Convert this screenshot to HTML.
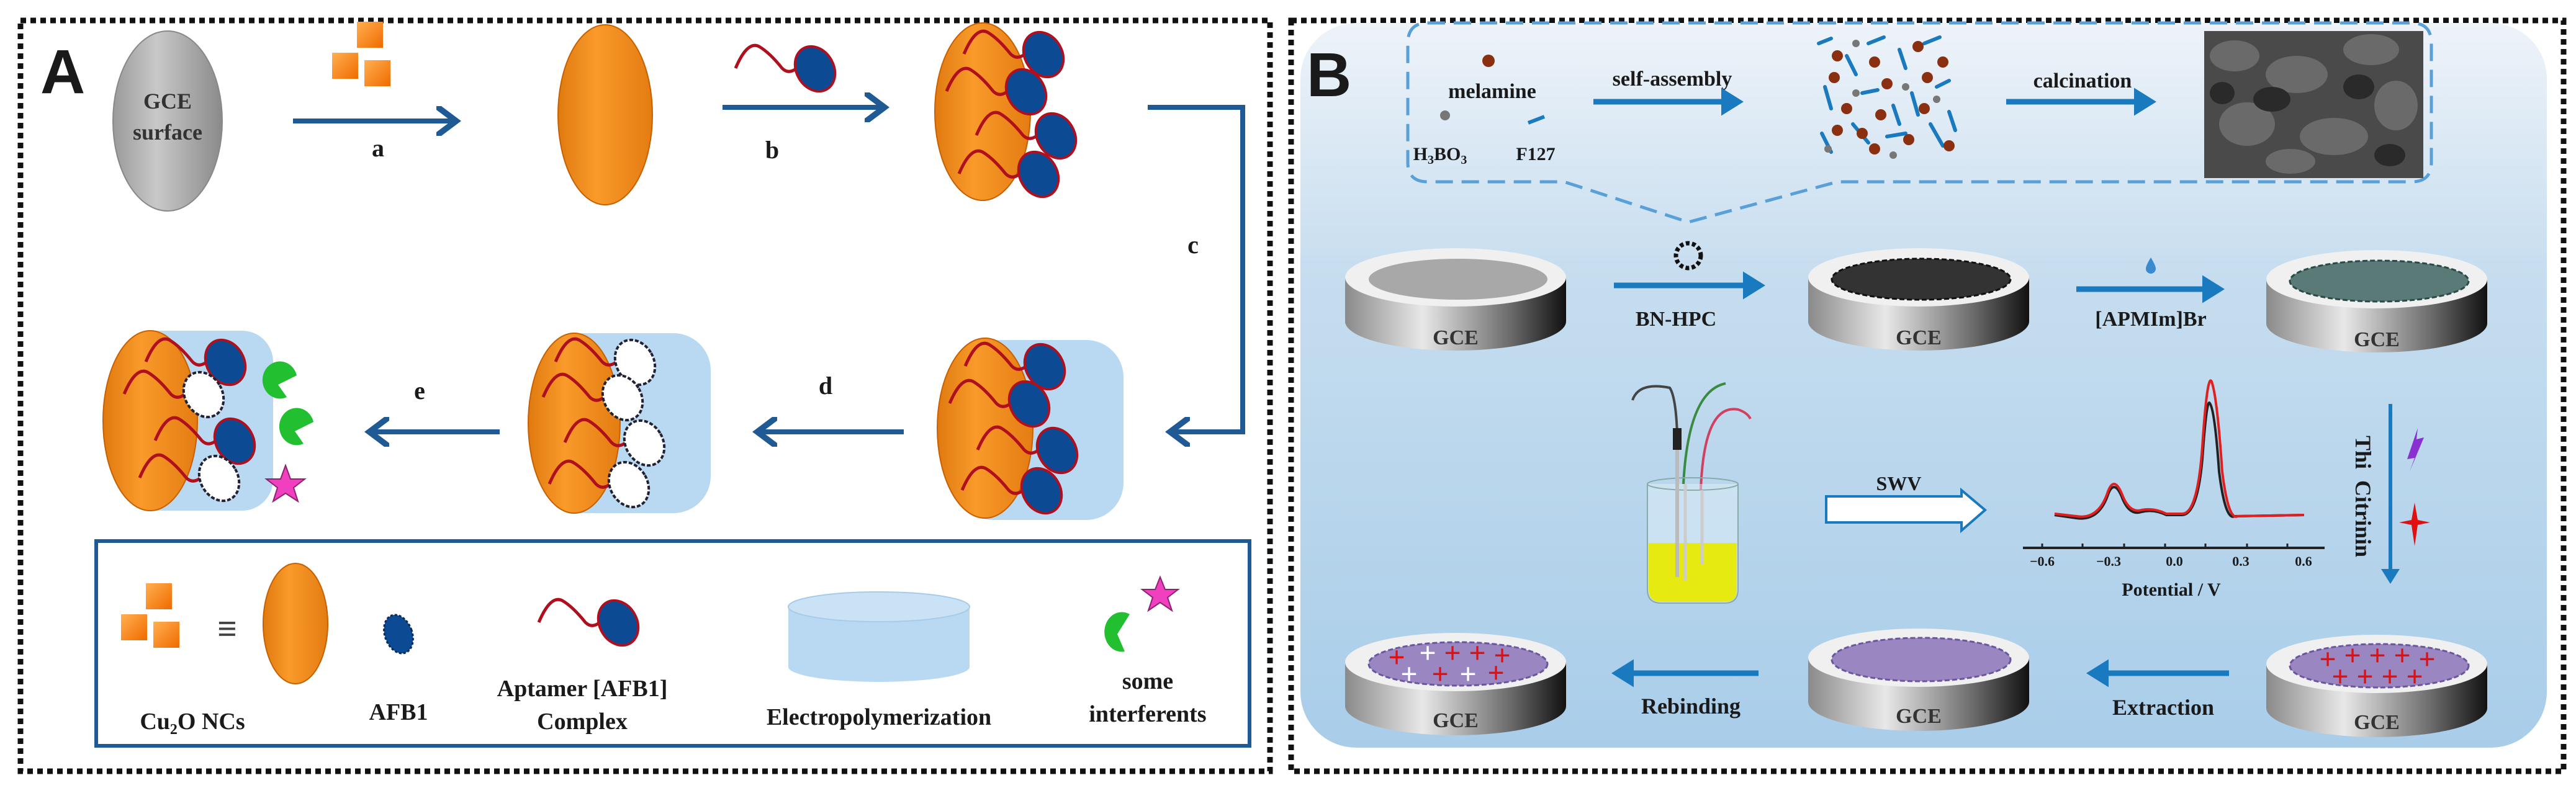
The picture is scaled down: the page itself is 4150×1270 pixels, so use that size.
<!DOCTYPE html>
<html><head><meta charset="utf-8"><style>
html,body{margin:0;padding:0;background:#fff;}
svg{display:block;}
text{font-family:"Liberation Serif",serif;font-weight:bold;fill:#1a1a1a;}
.r{fill:#e01010 !important;}
.w{fill:#ffffff !important;}
</style></head><body>
<svg width="4150" height="1270" viewBox="0 0 4150 1270" xmlns="http://www.w3.org/2000/svg">
<defs>
<linearGradient id="org" x1="0" x2="1" y1="0" y2="0"><stop offset="0" stop-color="#e07a10"/><stop offset="0.4" stop-color="#f99a2a"/><stop offset="1" stop-color="#e47c12"/></linearGradient>
<linearGradient id="gray" x1="0" x2="1"><stop offset="0" stop-color="#9a9a9a"/><stop offset="0.4" stop-color="#c8c8c8"/><stop offset="1" stop-color="#8a8a8a"/></linearGradient>
<linearGradient id="side" x1="0" x2="1"><stop offset="0" stop-color="#8a8a8a"/><stop offset="0.35" stop-color="#e8e8e8"/><stop offset="0.75" stop-color="#6a6a6a"/><stop offset="1" stop-color="#111"/></linearGradient>
<linearGradient id="bgB" x1="0" x2="0" y1="0" y2="1"><stop offset="0" stop-color="#eef3f9"/><stop offset="0.35" stop-color="#c6ddef"/><stop offset="1" stop-color="#a9cde9"/></linearGradient>
<linearGradient id="cub" x1="0" x2="1" y1="0" y2="1"><stop offset="0" stop-color="#ffb050"/><stop offset="1" stop-color="#f06a00"/></linearGradient>
<marker id="ah" markerWidth="6" markerHeight="6" refX="4" refY="3" orient="auto" markerUnits="strokeWidth"><path d="M0,0 L4,3 L0,6" fill="none" stroke="#1f5a95" stroke-width="1.2"/></marker>
<marker id="ah2" markerWidth="5" markerHeight="5" refX="3" refY="2.5" orient="auto" markerUnits="strokeWidth"><path d="M0,0 L4,2.5 L0,5 Z" fill="#1a7ac0"/></marker>
<g id="apt"><path d="M0,35 Q19,-10 38,0 Q55,10 75,35 Q85,45 97,36" fill="none" stroke="#b0101e" stroke-width="5"/><ellipse cx="128" cy="36" rx="30" ry="38" transform="rotate(-30 128 36)" fill="#0d4a94" stroke="#b0101e" stroke-width="4"/></g>
<g id="aptw"><path d="M0,35 Q19,-10 38,0 Q55,10 75,35 Q85,45 97,36" fill="none" stroke="#b0101e" stroke-width="5"/><ellipse cx="128" cy="36" rx="30" ry="38" transform="rotate(-30 128 36)" fill="#fff" stroke="#223" stroke-width="4" stroke-dasharray="6 3"/></g>
<g id="cubes"><rect x="40" y="0" width="42" height="42" fill="url(#cub)"/><rect x="0" y="50" width="42" height="42" fill="url(#cub)"/><rect x="52" y="62" width="42" height="42" fill="url(#cub)"/></g>
</defs>

<!-- Panel A -->
<rect x="33" y="33" width="2013" height="1210" fill="none" stroke="#111" stroke-width="9" stroke-dasharray="9 7"/>
<text x="65" y="150" style="font-family:'Liberation Sans',sans-serif;font-size:100px;">A</text>
<ellipse cx="270" cy="195" rx="88" ry="145" fill="url(#gray)" stroke="#888" stroke-width="2"/>
<text x="270" y="175" text-anchor="middle" font-size="36" style="fill:#333">GCE</text>
<text x="270" y="225" text-anchor="middle" font-size="36" style="fill:#333">surface</text>
<use href="#cubes" x="535" y="35"/>
<line x1="472" y1="195" x2="735" y2="195" stroke="#1f5a95" stroke-width="8" marker-end="url(#ah)"/>
<text x="609" y="252" text-anchor="middle" font-size="40">a</text>
<ellipse cx="975" cy="185" rx="76" ry="145" fill="url(#org)" stroke="#c86000" stroke-width="2"/>
<use href="#apt" x="1185" y="75"/>
<line x1="1164" y1="173" x2="1425" y2="173" stroke="#1f5a95" stroke-width="8" marker-end="url(#ah)"/>
<text x="1244" y="255" text-anchor="middle" font-size="40">b</text>
<ellipse cx="1583" cy="180" rx="77" ry="143" fill="url(#org)" stroke="#c86000" stroke-width="2"/>
<use href="#apt" x="1553" y="52"/><use href="#apt" x="1525" y="112"/><use href="#apt" x="1573" y="183"/><use href="#apt" x="1545" y="245"/>
<polyline points="1849,173 2002,173 2002,696 1885,696" fill="none" stroke="#1f5a95" stroke-width="8" marker-end="url(#ah)"/>
<text x="1922" y="408" text-anchor="middle" font-size="40">c</text>
<rect x="1540" y="548" width="270" height="290" rx="60" fill="#b9d9f3"/>
<ellipse cx="1587" cy="690" rx="77" ry="145" fill="url(#org)" stroke="#c86000" stroke-width="2"/>
<use href="#apt" x="1555" y="555"/><use href="#apt" x="1530" y="615"/><use href="#apt" x="1575" y="690"/><use href="#apt" x="1550" y="755"/>
<line x1="1456" y1="696" x2="1220" y2="696" stroke="#1f5a95" stroke-width="8" marker-end="url(#ah)"/>
<text x="1330" y="635" text-anchor="middle" font-size="40">d</text>
<rect x="880" y="537" width="265" height="290" rx="60" fill="#b9d9f3"/>
<ellipse cx="925" cy="682" rx="74" ry="145" fill="url(#org)" stroke="#c86000" stroke-width="2"/>
<use href="#aptw" x="895" y="548"/><use href="#aptw" x="875" y="605"/><use href="#aptw" x="910" y="678"/><use href="#aptw" x="885" y="745"/>
<line x1="805" y1="696" x2="595" y2="696" stroke="#1f5a95" stroke-width="8" marker-end="url(#ah)"/>
<text x="676" y="643" text-anchor="middle" font-size="40">e</text>
<rect x="200" y="533" width="240" height="290" rx="50" fill="#b9d9f3"/>
<ellipse cx="242" cy="678" rx="76" ry="145" fill="url(#org)" stroke="#c86000" stroke-width="2"/>
<use href="#apt" x="235" y="548"/><use href="#aptw" x="200" y="600"/><use href="#apt" x="250" y="675"/><use href="#aptw" x="225" y="735"/>
<path d="M478,605 A28,30 0 1 0 462,640 L448,620 Z" fill="#22c030"/>
<path d="M505,680 A28,30 0 1 0 489,715 L475,695 Z" fill="#22c030"/>
<polygon points="460,750 468,772 491,772 473,786 480,808 460,795 440,808 447,786 429,772 452,772" fill="#f040c0" stroke="#902070" stroke-width="2"/>
<rect x="155" y="872" width="1858" height="330" fill="none" stroke="#1f5a95" stroke-width="6"/>
<use href="#cubes" x="195" y="940"/>
<text x="366" y="1032" text-anchor="middle" font-size="56" style="fill:#444">≡</text>
<ellipse cx="476" cy="1005" rx="52" ry="97" fill="url(#org)" stroke="#c86000" stroke-width="2"/>
<text x="310" y="1175" text-anchor="middle" font-size="38">Cu<tspan font-size="24" dy="8">2</tspan><tspan dy="-8">O NCs</tspan></text>
<ellipse cx="642" cy="1022" rx="22" ry="32" transform="rotate(-20 642 1022)" fill="#0d4a94" stroke="#0a2a5a" stroke-width="3" stroke-dasharray="4 3"/>
<text x="642" y="1160" text-anchor="middle" font-size="38">AFB1</text>
<use href="#apt" x="868" y="968"/>
<text x="938" y="1122" text-anchor="middle" font-size="38">Aptamer [AFB1]</text>
<text x="938" y="1175" text-anchor="middle" font-size="38">Complex</text>
<path d="M1270,978 L1270,1075 A146,24 0 0 0 1562,1075 L1562,978" fill="#b9d9f3"/>
<ellipse cx="1416" cy="978" rx="146" ry="24" fill="#c9e2f6" stroke="#a8cbe8" stroke-width="2"/>
<text x="1416" y="1168" text-anchor="middle" font-size="38">Electropolymerization</text>
<polygon points="1869,930 1877,950 1898,950 1881,963 1888,984 1869,971 1850,984 1857,963 1840,950 1861,950" fill="#f040c0" stroke="#902070" stroke-width="2"/>
<path d="M1820,990 A28,32 0 1 0 1812,1050 L1800,1022 Z" fill="#22c030"/>
<text x="1849" y="1110" text-anchor="middle" font-size="38">some</text>
<text x="1849" y="1163" text-anchor="middle" font-size="38">interferents</text>

<!-- Panel B -->
<rect x="2080" y="33" width="2050" height="1210" fill="none" stroke="#111" stroke-width="9" stroke-dasharray="9 7"/>
<rect x="2095" y="37" width="2008" height="1168" rx="90" fill="url(#bgB)"/>
<text x="2105" y="155" style="font-family:'Liberation Sans',sans-serif;font-size:100px;">B</text>
<path d="M2300,37 L3885,37 Q3917,37 3917,70 L3917,262 Q3917,293 3885,293 L2960,293 L2720,358 L2520,293 L2300,293 Q2268,293 2268,262 L2268,70 Q2268,37 2300,37 Z" fill="none" stroke="#5aa0d8" stroke-width="5" stroke-dasharray="28 14"/>
<circle cx="2398" cy="98" r="10" fill="#8a3010"/>
<text x="2404" y="158" text-anchor="middle" font-size="34">melamine</text>
<circle cx="2328" cy="186" r="8" fill="#777"/>
<line x1="2462" y1="198" x2="2488" y2="188" stroke="#1a7ac0" stroke-width="6"/>
<text x="2320" y="258" text-anchor="middle" font-size="30">H<tspan font-size="20" dy="6">3</tspan><tspan dy="-6">BO</tspan><tspan font-size="20" dy="6">3</tspan></text>
<text x="2474" y="258" text-anchor="middle" font-size="30">F127</text>
<text x="2694" y="138" text-anchor="middle" font-size="34">self-assembly</text>
<line x1="2567" y1="164" x2="2800" y2="164" stroke="#1a7ac0" stroke-width="9" marker-end="url(#ah2)"/>
<g stroke="#1a7ac0" stroke-width="6" stroke-linecap="round">
<line x1="2930" y1="70" x2="2950" y2="62"/><line x1="2975" y1="90" x2="2990" y2="120"/><line x1="3010" y1="70" x2="3035" y2="60"/><line x1="3060" y1="80" x2="3070" y2="110"/><line x1="3100" y1="70" x2="3125" y2="60"/><line x1="2940" y1="140" x2="2950" y2="175"/><line x1="3000" y1="150" x2="3025" y2="145"/><line x1="3080" y1="150" x2="3090" y2="185"/><line x1="3120" y1="140" x2="3140" y2="130"/><line x1="2935" y1="215" x2="2950" y2="245"/><line x1="2985" y1="200" x2="3010" y2="230"/><line x1="3040" y1="220" x2="3070" y2="215"/><line x1="3110" y1="200" x2="3130" y2="235"/><line x1="3050" y1="170" x2="3060" y2="200"/><line x1="3140" y1="180" x2="3150" y2="210"/>
</g>
<g fill="#8a3010">
<circle cx="2960" cy="90" r="9"/><circle cx="3020" cy="100" r="9"/><circle cx="3090" cy="75" r="9"/><circle cx="3130" cy="100" r="9"/><circle cx="2955" cy="125" r="9"/><circle cx="3040" cy="135" r="9"/><circle cx="3105" cy="125" r="9"/><circle cx="2975" cy="175" r="9"/><circle cx="3030" cy="185" r="9"/><circle cx="3100" cy="175" r="9"/><circle cx="2960" cy="210" r="9"/><circle cx="3020" cy="240" r="9"/><circle cx="3075" cy="225" r="9"/><circle cx="3140" cy="235" r="9"/><circle cx="3000" cy="215" r="9"/>
</g>
<g fill="#777"><circle cx="2990" cy="70" r="6"/><circle cx="3070" cy="140" r="6"/><circle cx="2990" cy="150" r="6"/><circle cx="3120" cy="160" r="6"/><circle cx="3050" cy="250" r="6"/><circle cx="2945" cy="240" r="6"/></g>
<text x="3355" y="141" text-anchor="middle" font-size="34">calcination</text>
<line x1="3232" y1="164" x2="3465" y2="164" stroke="#1a7ac0" stroke-width="9" marker-end="url(#ah2)"/>
<rect x="3551" y="50" width="353" height="237" fill="#4a4a4a"/>
<g fill="#6a6a6a"><ellipse cx="3600" cy="90" rx="40" ry="25"/><ellipse cx="3700" cy="120" rx="50" ry="30"/><ellipse cx="3820" cy="80" rx="45" ry="25"/><ellipse cx="3620" cy="200" rx="45" ry="35"/><ellipse cx="3760" cy="220" rx="55" ry="30"/><ellipse cx="3860" cy="170" rx="35" ry="40"/><ellipse cx="3690" cy="260" rx="40" ry="20"/></g>
<g fill="#2a2a2a"><ellipse cx="3660" cy="160" rx="30" ry="20"/><ellipse cx="3800" cy="140" rx="25" ry="20"/><ellipse cx="3580" cy="150" rx="20" ry="18"/><ellipse cx="3850" cy="250" rx="25" ry="18"/></g>

<path d="M2167,447 L2167,518 A178,47 0 0 0 2523,518 L2523,447 Z" fill="url(#side)"/>
<ellipse cx="2345" cy="447" rx="178" ry="47" fill="#f0f0f0"/>
<ellipse cx="2349" cy="450" rx="144" ry="33" fill="#a8a8a8"/>
<text x="2345" y="555" text-anchor="middle" font-size="34" style="fill:#333">GCE</text>
<path d="M2913,447 L2913,518 A178,47 0 0 0 3269,518 L3269,447 Z" fill="url(#side)"/>
<ellipse cx="3091" cy="447" rx="178" ry="47" fill="#f0f0f0"/>
<ellipse cx="3095" cy="450" rx="144" ry="33" fill="#333" stroke="#111" stroke-width="3" stroke-dasharray="8 4"/>
<text x="3091" y="555" text-anchor="middle" font-size="34" style="fill:#333">GCE</text>
<path d="M3651,450 L3651,521 A178,47 0 0 0 4007,521 L4007,450 Z" fill="url(#side)"/>
<ellipse cx="3829" cy="450" rx="178" ry="47" fill="#f0f0f0"/>
<ellipse cx="3833" cy="453" rx="144" ry="33" fill="#5a7a78" stroke="#2a4a48" stroke-width="3" stroke-dasharray="8 4"/>
<text x="3829" y="558" text-anchor="middle" font-size="34" style="fill:#333">GCE</text>
<line x1="2600" y1="460" x2="2835" y2="460" stroke="#1a7ac0" stroke-width="9" marker-end="url(#ah2)"/>
<circle cx="2720" cy="412" r="20" fill="none" stroke="#111" stroke-width="7" stroke-dasharray="6 4"/>
<text x="2700" y="525" text-anchor="middle" font-size="34">BN-HPC</text>
<line x1="3345" y1="466" x2="3575" y2="466" stroke="#1a7ac0" stroke-width="9" marker-end="url(#ah2)"/>
<path d="M3465,415 Q3457,428 3457,433 A8,8 0 0 0 3473,433 Q3473,428 3465,415 Z" fill="#3a8ad0"/>
<text x="3465" y="525" text-anchor="middle" font-size="34">[APMIm]Br</text>

<path d="M2630,645 Q2640,615 2690,625 Q2700,640 2702,700" fill="none" stroke="#444" stroke-width="4"/>
<path d="M2712,780 Q2720,630 2780,618" fill="none" stroke="#3a8a40" stroke-width="4"/>
<path d="M2740,790 Q2745,650 2800,660 Q2815,665 2820,675" fill="none" stroke="#d04060" stroke-width="4"/>
<rect x="2695" y="690" width="14" height="35" fill="#222"/>
<path d="M2654,780 L2654,950 Q2654,972 2676,972 L2778,972 Q2800,972 2800,950 L2800,780" fill="#dff0f8" fill-opacity="0.5" stroke="#8aa" stroke-width="2"/>
<path d="M2656,875 L2656,950 Q2656,970 2676,970 L2778,970 Q2798,970 2798,950 L2798,875 Z" fill="#e6ea10"/>
<ellipse cx="2727" cy="780" rx="73" ry="10" fill="none" stroke="#8aa" stroke-width="2"/>
<line x1="2702" y1="725" x2="2702" y2="930" stroke="#bbb" stroke-width="6"/>
<line x1="2715" y1="780" x2="2715" y2="935" stroke="#ccc" stroke-width="5"/>
<line x1="2742" y1="790" x2="2742" y2="910" stroke="#ccc" stroke-width="5"/>
<path d="M2942,800 L3160,800 L3160,790 L3198,822 L3160,855 L3160,842 L2942,842 Z" fill="#fff" stroke="#1a7ac0" stroke-width="4"/>
<text x="3059" y="790" text-anchor="middle" font-size="32">SWV</text>
<line x1="3259" y1="883" x2="3745" y2="883" stroke="#222" stroke-width="4"/>
<g stroke="#222" stroke-width="3"><line x1="3290" y1="883" x2="3290" y2="876"/><line x1="3355" y1="883" x2="3355" y2="876"/><line x1="3422" y1="883" x2="3422" y2="876"/><line x1="3488" y1="883" x2="3488" y2="876"/><line x1="3553" y1="883" x2="3553" y2="876"/><line x1="3620" y1="883" x2="3620" y2="876"/><line x1="3685" y1="883" x2="3685" y2="876"/></g>
<g font-size="22" text-anchor="middle"><text x="3290" y="912">−0.6</text><text x="3397" y="912">−0.3</text><text x="3503" y="912">0.0</text><text x="3610" y="912">0.3</text><text x="3711" y="912">0.6</text></g>
<text x="3498" y="960" text-anchor="middle" font-size="30">Potential / V</text>
<path d="M3310,830 L3345,835 Q3380,840 3395,800 Q3405,770 3418,800 Q3430,832 3450,825 Q3470,820 3490,830 L3515,830 Q3540,830 3548,740 Q3555,640 3560,650 Q3568,660 3575,760 Q3585,840 3600,832 L3712,830" fill="none" stroke="#222" stroke-width="4"/>
<path d="M3310,828 L3345,832 Q3380,838 3395,795 Q3405,765 3418,795 Q3430,828 3450,822 Q3470,818 3490,828 L3515,828 Q3540,830 3548,720 Q3556,600 3563,615 Q3572,640 3580,760 Q3590,840 3605,832 L3712,830" fill="none" stroke="#e02020" stroke-width="4"/>
<line x1="3851" y1="651" x2="3851" y2="935" stroke="#1a7ac0" stroke-width="6" marker-end="url(#ah2)"/>
<text transform="translate(3795,800) rotate(90)" text-anchor="middle" font-size="36">Thi&#160;&#160;Citrinin</text>
<path d="M3895,690 L3878,740 L3890,738 L3882,760 L3905,705 L3893,708 Z" fill="#8a30d0"/>
<path d="M3890,810 L3895,838 L3915,842 L3895,846 L3890,880 L3885,846 L3865,842 L3885,838 Z" fill="#e01010"/>
<path d="M2167,1067 L2167,1138 A178,47 0 0 0 2523,1138 L2523,1067 Z" fill="url(#side)"/>
<ellipse cx="2345" cy="1067" rx="178" ry="47" fill="#f0f0f0"/>
<ellipse cx="2349" cy="1070" rx="144" ry="35" fill="#9a86c0" stroke="#6a56a0" stroke-width="3" stroke-dasharray="8 4"/>
<text x="2345" y="1172" text-anchor="middle" font-size="34" style="fill:#333">GCE</text>
<g font-size="48" text-anchor="middle" style="font-family:'Liberation Sans',sans-serif"><text class="r" x="2250" y="1075">+</text><text class="w" x="2300" y="1068">+</text><text class="r" x="2340" y="1068">+</text><text class="r" x="2380" y="1068">+</text><text class="r" x="2420" y="1072">+</text><text class="w" x="2270" y="1102">+</text><text class="r" x="2320" y="1102">+</text><text class="w" x="2365" y="1102">+</text><text class="r" x="2410" y="1100">+</text></g>
<path d="M2913,1060 L2913,1131 A178,47 0 0 0 3269,1131 L3269,1060 Z" fill="url(#side)"/>
<ellipse cx="3091" cy="1060" rx="178" ry="47" fill="#f0f0f0"/>
<ellipse cx="3095" cy="1063" rx="144" ry="35" fill="#9a86c0" stroke="#6a56a0" stroke-width="3" stroke-dasharray="8 4"/>
<text x="3091" y="1165" text-anchor="middle" font-size="34" style="fill:#333">GCE</text>
<path d="M3651,1070 L3651,1141 A178,47 0 0 0 4007,1141 L4007,1070 Z" fill="url(#side)"/>
<ellipse cx="3829" cy="1070" rx="178" ry="47" fill="#f0f0f0"/>
<ellipse cx="3833" cy="1073" rx="144" ry="35" fill="#9a86c0" stroke="#6a56a0" stroke-width="3" stroke-dasharray="8 4"/>
<text x="3829" y="1175" text-anchor="middle" font-size="34" style="fill:#333">GCE</text>
<g font-size="48" text-anchor="middle" style="font-family:'Liberation Sans',sans-serif"><text class="r" x="3750" y="1078">+</text><text class="r" x="3790" y="1072">+</text><text class="r" x="3830" y="1072">+</text><text class="r" x="3870" y="1072">+</text><text class="r" x="3910" y="1078">+</text><text class="r" x="3770" y="1106">+</text><text class="r" x="3810" y="1106">+</text><text class="r" x="3850" y="1106">+</text><text class="r" x="3890" y="1106">+</text></g>
<line x1="2833" y1="1085" x2="2605" y2="1085" stroke="#1a7ac0" stroke-width="9" marker-end="url(#ah2)"/>
<text x="2724" y="1150" text-anchor="middle" font-size="36">Rebinding</text>
<line x1="3591" y1="1085" x2="3370" y2="1085" stroke="#1a7ac0" stroke-width="9" marker-end="url(#ah2)"/>
<text x="3485" y="1152" text-anchor="middle" font-size="36">Extraction</text>
</svg>
</body></html>
